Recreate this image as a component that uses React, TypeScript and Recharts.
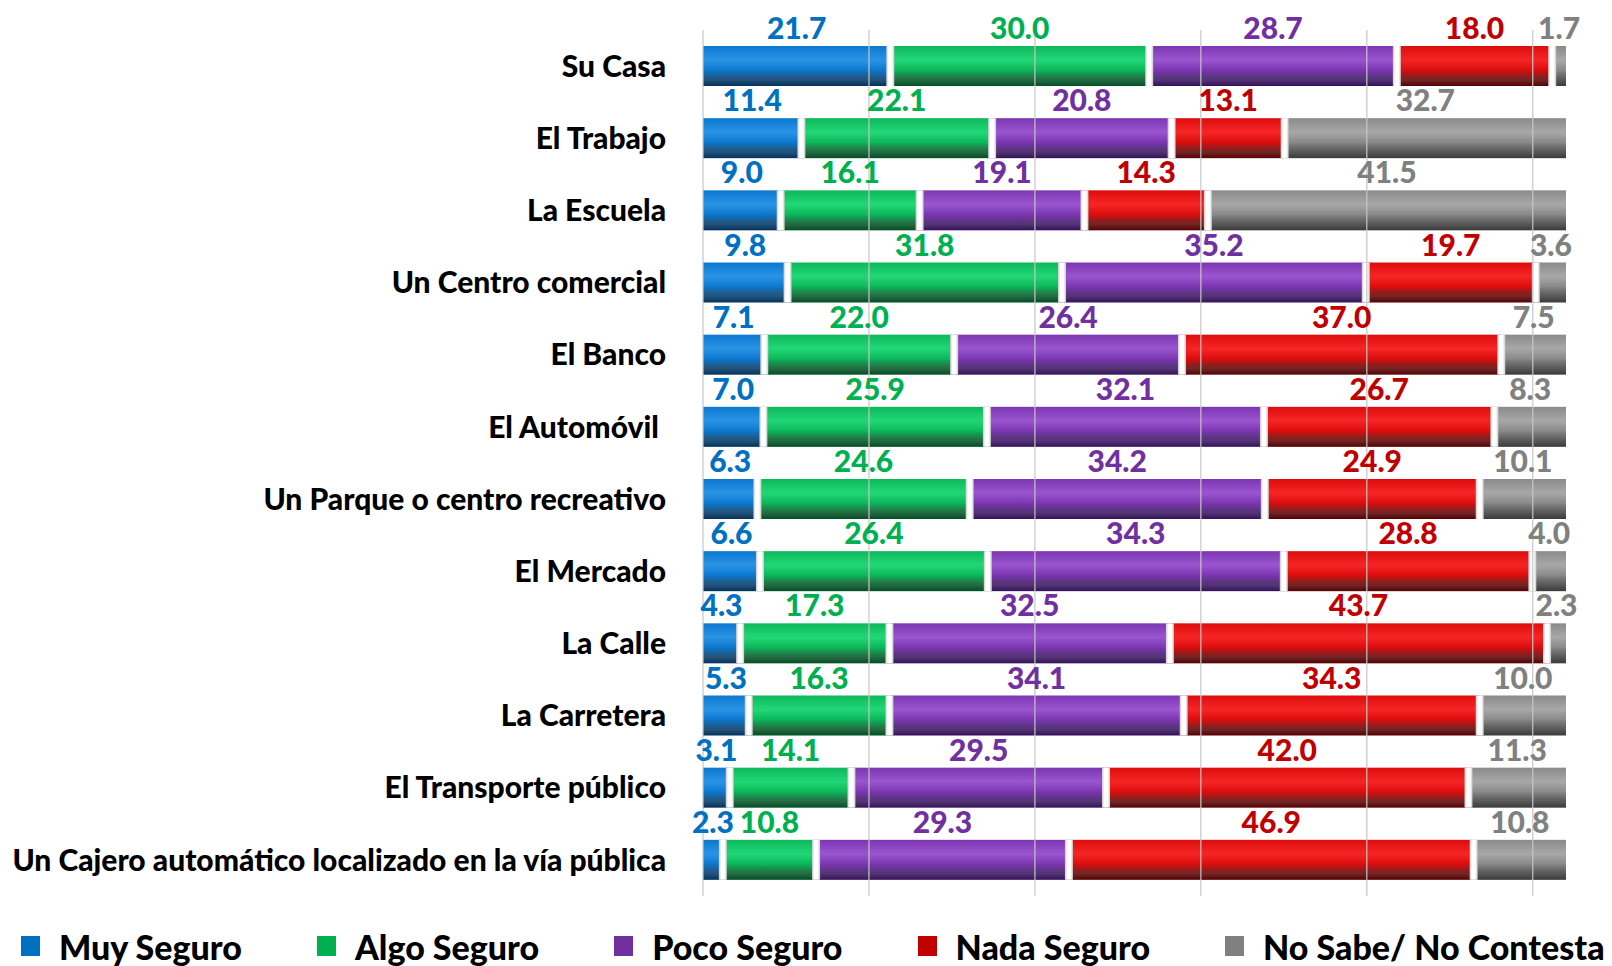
import React from 'react';
import { BarChart, Bar, XAxis, YAxis, ReferenceLine, LabelList } from 'recharts';

const places = [
  'Su Casa',
  'El Trabajo',
  'La Escuela',
  'Un Centro comercial',
  'El Banco',
  'El Automóvil\u00A0',
  'Un Parque o centro recreativo',
  'El Mercado',
  'La Calle',
  'La Carretera',
  'El Transporte público',
  'Un Cajero automático localizado en la vía pública',
];

const muySeguro = [21.7, 11.4, 9.0, 9.8, 7.1, 7.0, 6.3, 6.6, 4.3, 5.3, 3.1, 2.3];
const algoSeguro = [30.0, 22.1, 16.1, 31.8, 22.0, 25.9, 24.6, 26.4, 17.3, 16.3, 14.1, 10.8];
const pocoSeguro = [28.7, 20.8, 19.1, 35.2, 26.4, 32.1, 34.2, 34.3, 32.5, 34.1, 29.5, 29.3];
const nadaSeguro = [18.0, 13.1, 14.3, 19.7, 37.0, 26.7, 24.9, 28.8, 43.7, 34.3, 42.0, 46.9];
const noSabe = [1.7, 32.7, 41.5, 3.6, 7.5, 8.3, 10.1, 4.0, 2.3, 10.0, 11.3, 10.8];

// grid lines in the original are spaced at 100/5.2
const gridTicks = [0, 19.23, 38.46, 57.69, 76.92, 96.15];

const series = [
  { key: 'muy', name: 'Muy Seguro', values: muySeguro, color: '#0070C0', hi: '#2b93e6', base: '#0b79cf', dark: '#00335f' },
  { key: 'algo', name: 'Algo Seguro', values: algoSeguro, color: '#00B050', hi: '#22d777', base: '#0cb85a', dark: '#004f22' },
  { key: 'poco', name: 'Poco Seguro', values: pocoSeguro, color: '#7030A0', hi: '#9a55cf', base: '#7c36b3', dark: '#34115a' },
  { key: 'nada', name: 'Nada Seguro', values: nadaSeguro, color: '#C00000', hi: '#f72626', base: '#de0d0d', dark: '#560000' },
  { key: 'ns', name: 'No Sabe/ No Contesta', values: noSabe, color: '#808080', hi: '#a8a8a8', base: '#8a8a8a', dark: '#3a3a3a' },
];

const chartData = places.map((name, i) => {
  const row: Record<string, any> = { name };
  series.forEach((s) => {
    row[s.key] = s.values[i];
  });
  return row;
});

const FONT = 'Lato, "Open Sans", sans-serif';

const makeShape = (idx: number) => (props: any) => {
  const { x, y, width, height } = props;
  if (width == null || height == null) return <g />;
  return (
    <g>
      <rect x={x} y={y} width={width} height={height} fill={`url(#grad-${idx})`} />
      {idx > 0 && <rect x={x - 4} y={y} width={8} height={height} fill="url(#sep)" />}
    </g>
  );
};

const makeLabel = (color: string) => (props: any) => {
  const { x, y, width, value } = props;
  return (
    <text
      x={x + width / 2}
      y={y - 19}
      textAnchor="middle"
      dominantBaseline="central"
      fill={color}
      style={{ fontFamily: FONT, fontWeight: 900, fontSize: 30 }}
    >
      {Number(value).toFixed(1)}
    </text>
  );
};

const Legend2 = () => (
  <div
    style={{
      position: 'absolute',
      left: 21,
      top: 926,
      display: 'flex',
      alignItems: 'center',
      height: 40,
      fontFamily: FONT,
      fontWeight: 900,
      fontSize: 34,
      color: '#000',
      whiteSpace: 'nowrap',
    }}
  >
    {series.map((s) => (
      <div key={s.key} style={{ display: 'flex', alignItems: 'center', marginRight: 75 }}>
        <span style={{ display: 'inline-block', width: 19, height: 20, background: s.color, marginRight: 19 }} />
        <span>{s.name}</span>
      </div>
    ))}
  </div>
);

export default function App() {
  return (
    <div style={{ position: 'absolute', left: 0, top: 0, width: 1612, height: 966, overflow: 'hidden', background: '#fff' }}>
      <BarChart
        width={1612}
        height={966}
        data={chartData}
        layout="vertical"
        margin={{ top: 30, right: 46, bottom: 70, left: 0 }}
        barSize={40}
      >
        <defs>
          {series.map((s, i) => (
            <linearGradient key={s.key} id={`grad-${i}`} x1="0" y1="0" x2="0" y2="1">
              <stop offset="0%" stopColor={s.base} />
              <stop offset="35%" stopColor={s.hi} />
              <stop offset="60%" stopColor={s.base} />
              <stop offset="85%" stopColor={s.dark} stopOpacity={0.85} />
              <stop offset="100%" stopColor={s.dark} />
            </linearGradient>
          ))}
          <linearGradient id="sep" x1="0" y1="0" x2="1" y2="0">
            <stop offset="0%" stopColor="#c8c8c8" />
            <stop offset="30%" stopColor="#ffffff" />
            <stop offset="70%" stopColor="#ffffff" />
            <stop offset="100%" stopColor="#c8c8c8" />
          </linearGradient>
        </defs>
        <XAxis type="number" domain={[0, 100]} allowDataOverflow hide />
        <YAxis
          type="category"
          dataKey="name"
          width={703}
          tickLine={false}
          axisLine={false}
          tickMargin={31}
          interval={0}
          tick={{ fill: '#000', fontFamily: FONT, fontWeight: 900, fontSize: 30 }}
        />
        {gridTicks.map((t) => (
          <ReferenceLine key={t} x={t} stroke="#c6c6c6" strokeWidth={1.2} />
        ))}
        {series.map((s, i) => (
          <Bar
            key={s.key}
            dataKey={s.key}
            name={s.name}
            stackId="a"
            fill={s.color}
            shape={makeShape(i)}
            isAnimationActive={false}
          >
            <LabelList dataKey={s.key} content={makeLabel(s.color)} />
          </Bar>
        ))}
      </BarChart>
      <Legend2 />
    </div>
  );
}
